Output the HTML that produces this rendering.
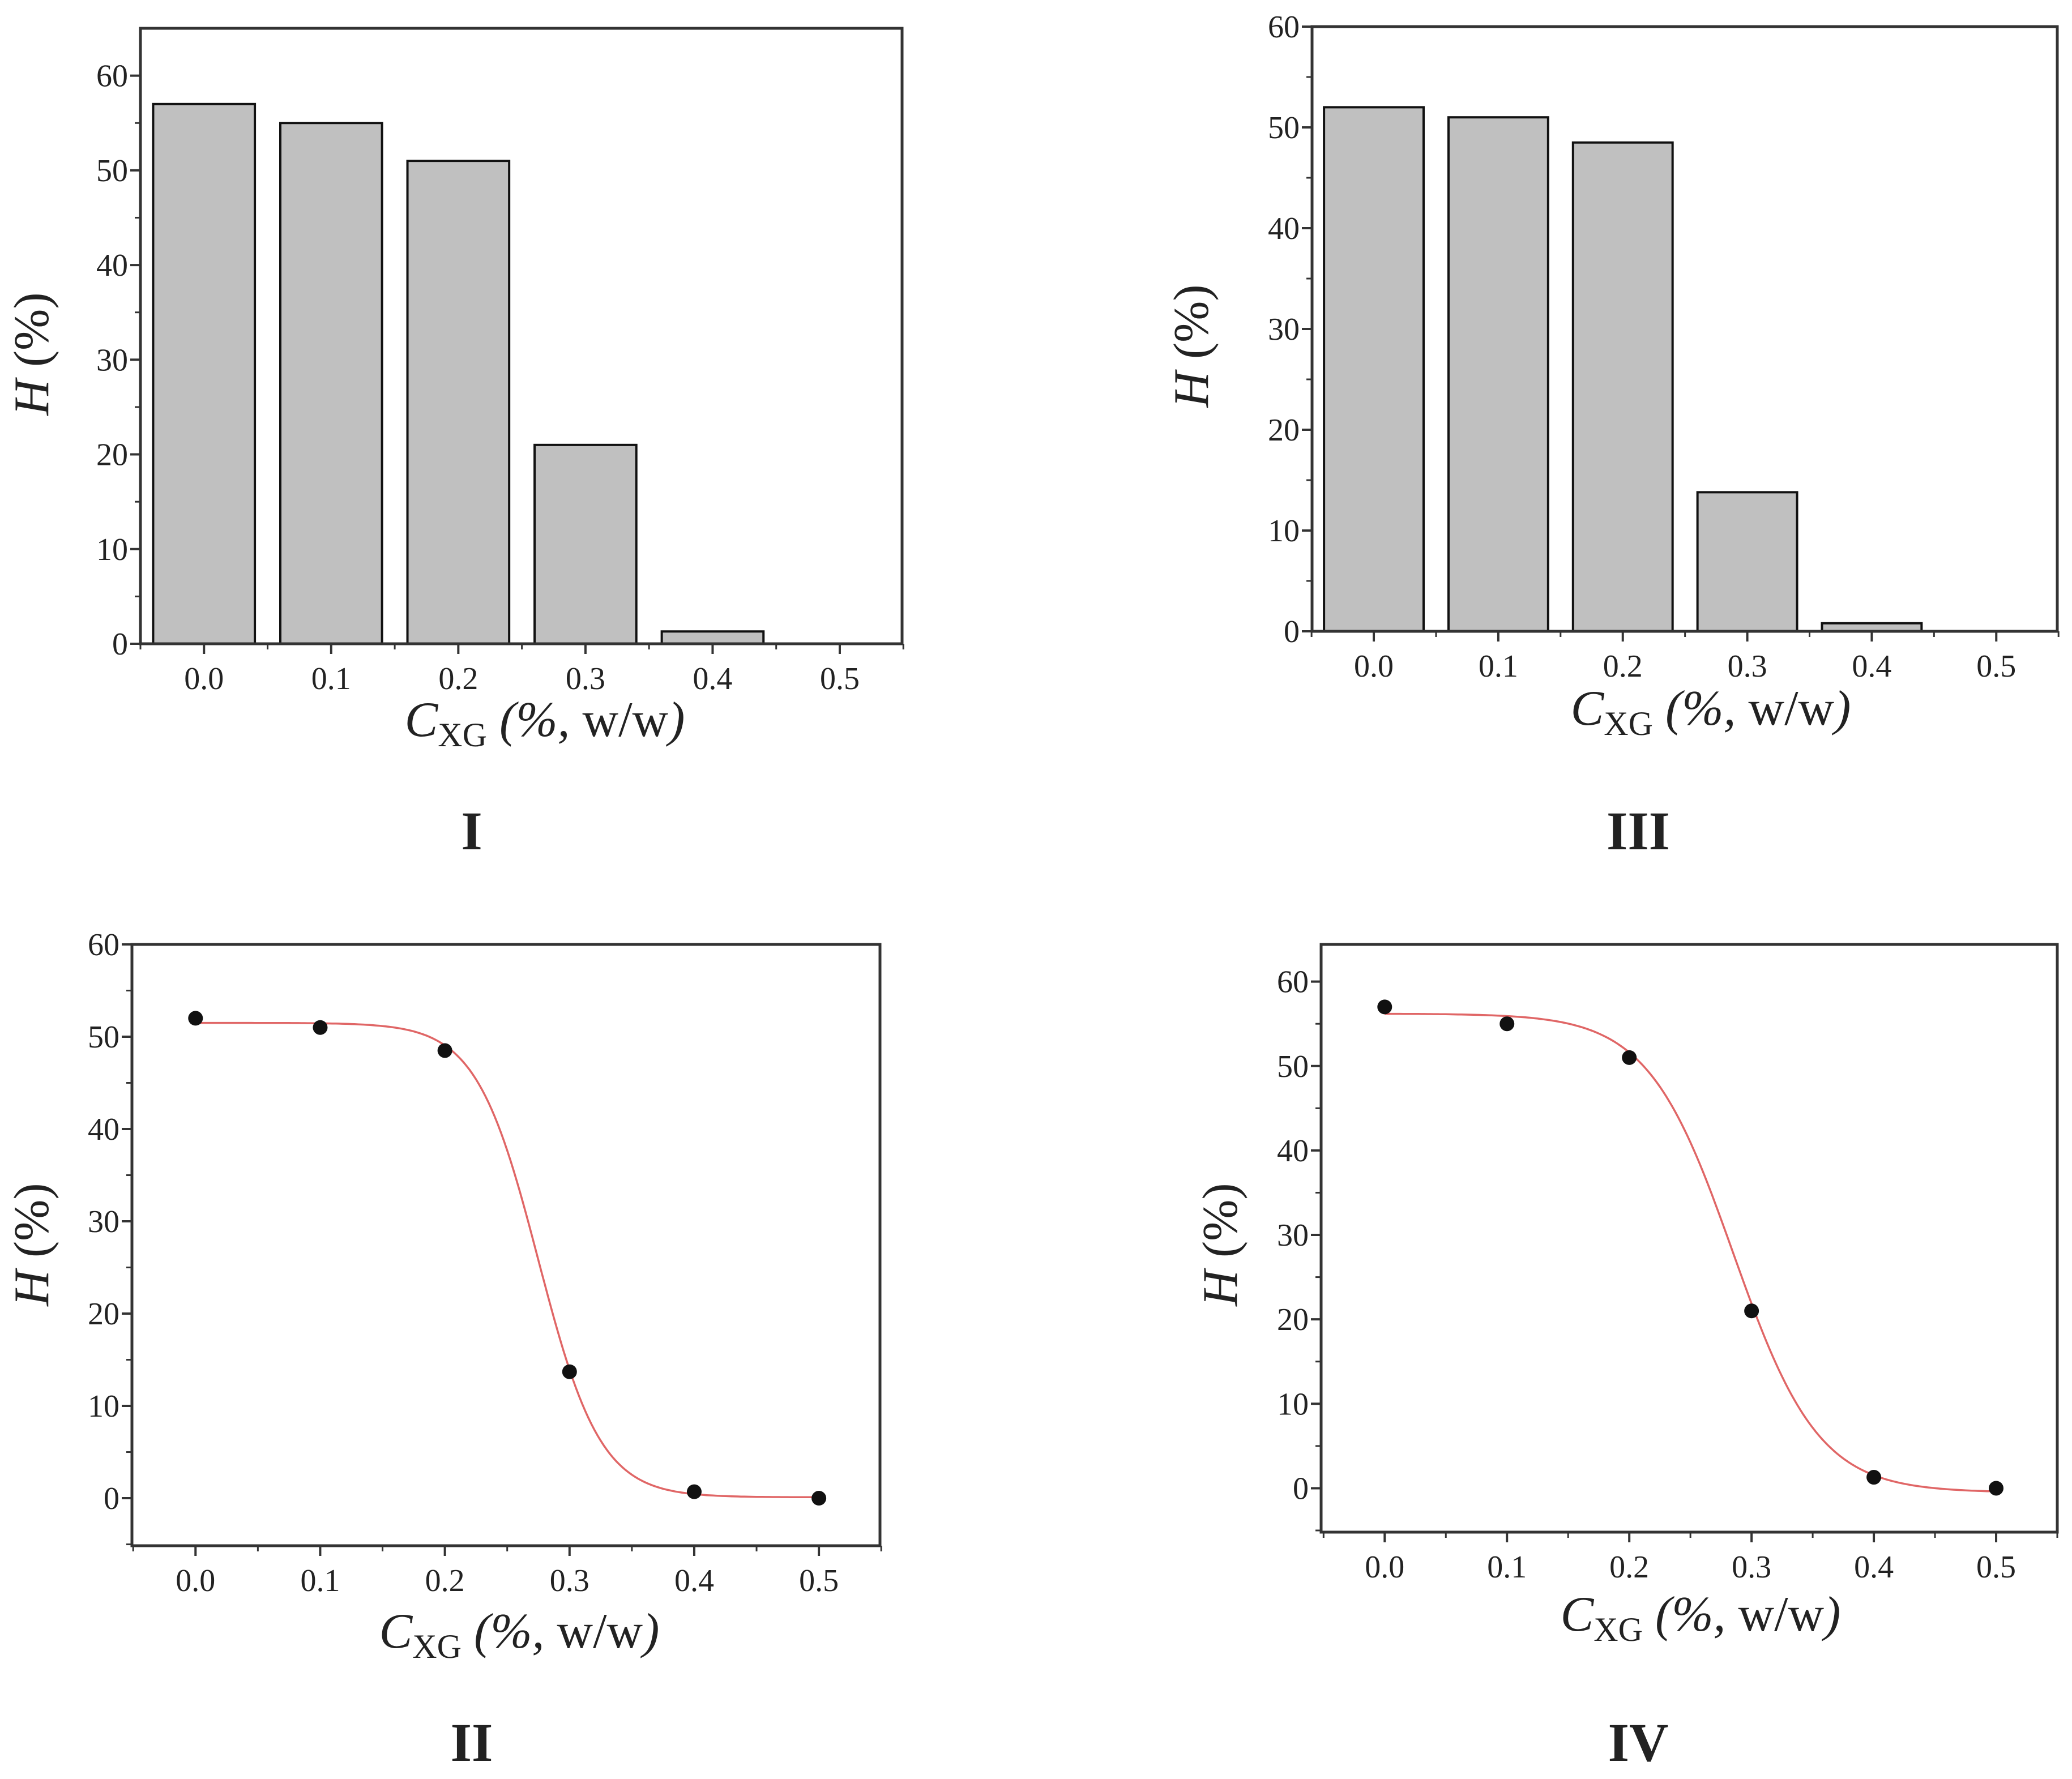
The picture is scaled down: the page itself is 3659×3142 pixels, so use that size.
<!DOCTYPE html>
<html><head><meta charset="utf-8"><style>
html,body{margin:0;padding:0;background:#fff;}
svg{display:block;font-family:"Liberation Serif",serif;}
</style></head><body>
<svg id="fig" width="3659" height="3142" viewBox="0 0 3659 3142" xmlns="http://www.w3.org/2000/svg"></svg>
<script>
const categories = [0.0, 0.1, 0.2, 0.3, 0.4, 0.5];
const xTickLabels = ["0.0","0.1","0.2","0.3","0.4","0.5"];
const barsI = [57, 55, 51, 21, 1.3, 0];
const barsIII = [52, 51, 48.5, 13.8, 0.8, 0];
const pointsII = [52, 51, 48.5, 13.7, 0.7, 0];
const pointsIV = [57, 55, 51, 21, 1.3, 0];
const fitII = [51.5, 0.1, 0.275, 0.025];
const fitIV = [56.2, -0.5, 0.285, 0.035];
const yTicksI = [0,10,20,30,40,50,60];
const yTicksII = [0,10,20,30,40,50,60];

const NS = "http://www.w3.org/2000/svg";
const svg = document.getElementById('fig');
function mk(tag, attrs, parent){const e=document.createElementNS(NS,tag);for(const k in attrs)e.setAttribute(k,attrs[k]);(parent||svg).appendChild(e);return e;}

function panel(cfg){
  const g = mk('g',{});
  
  
  const X = v => cfg.left + (v - cfg.xmin)/(cfg.xmax-cfg.xmin)*(cfg.right-cfg.left);
  const Y = v => cfg.bottom - (v - cfg.ymin)/(cfg.ymax-cfg.ymin)*(cfg.bottom-cfg.top);
  if(cfg.bars){
    cfg.bars.forEach((v,i)=>{
      if(v<=0) return;
      const r = mk('rect',{x:X(categories[i]-0.04),y:Y(v),width:X(categories[i]+0.04)-X(categories[i]-0.04),height:Y(0)-Y(v),fill:'#c0c0c0',stroke:'#111','stroke-width':4},g);
      
      
    });
  }
  if(cfg.fit){
    const [A1,A2,x0,dx]=cfg.fit; let d='';
    for(let k=0;k<=200;k++){const x=k/200*0.5;const y=A2+(A1-A2)/(1+Math.exp((x-x0)/dx));d+=(k?'L':'M')+X(x).toFixed(1)+','+Y(y).toFixed(1);}
    const p = mk('path',{d:d,fill:'none',stroke:'#e06666','stroke-width':3.5},g);
    
    
  }
  if(cfg.points){
    cfg.points.forEach((v,i)=>{
      const c = mk('circle',{cx:X(categories[i]),cy:Y(v),r:13,fill:'#111'},g);
      
      
    });
  }
  const f = mk('rect',{x:cfg.left,y:cfg.top,width:cfg.right-cfg.left,height:cfg.bottom-cfg.top,fill:'none',stroke:'#333','stroke-width':5},g);
  
  
  cfg.yTicks.forEach(t=>{
    mk('line',{x1:cfg.left-18,x2:cfg.left,y1:Y(t),y2:Y(t),stroke:'#333','stroke-width':4},g);
    const tx = mk('text',{x:cfg.left-22,y:Y(t)+19,'text-anchor':'end','font-size':56,fill:'#222'},g);
    tx.textContent = t;
    
    
    const m=t+5; if(m<cfg.ymax) mk('line',{x1:cfg.left-10,x2:cfg.left,y1:Y(m),y2:Y(m),stroke:'#333','stroke-width':3},g);
  });
  if(cfg.ymin<0) mk('line',{x1:cfg.left-10,x2:cfg.left,y1:Y(-5),y2:Y(-5),stroke:'#333','stroke-width':3},g);
  categories.forEach((c,i)=>{
    mk('line',{x1:X(c),x2:X(c),y1:cfg.bottom,y2:cfg.bottom+18,stroke:'#333','stroke-width':4},g);
    mk('line',{x1:X(c+0.05),x2:X(c+0.05),y1:cfg.bottom,y2:cfg.bottom+10,stroke:'#333','stroke-width':3},g);
    const tx = mk('text',{x:X(c),y:cfg.bottom+80,'text-anchor':'middle','font-size':56,fill:'#222'},g);
    tx.textContent = xTickLabels[i];
    
    
  });
  mk('line',{x1:X(-0.05),x2:X(-0.05),y1:cfg.bottom,y2:cfg.bottom+10,stroke:'#333','stroke-width':3},g);
  const yt = mk('text',{x:0,y:0,transform:`translate(${cfg.yt[0]},${cfg.yt[1]}) rotate(-90)`,'text-anchor':'middle','font-size':88,fill:'#222'},g);
  yt.innerHTML = '<tspan font-style="italic">H</tspan> (%)';
  
  
  const xt = mk('text',{x:cfg.xt[0],y:cfg.xt[1],'text-anchor':'middle','font-size':88,fill:'#222'},g);
  xt.innerHTML = '<tspan font-style="italic">C</tspan><tspan font-size="60" dy="18">XG</tspan><tspan dy="-18" font-style="italic"> (%, </tspan><tspan>w/w</tspan><tspan font-style="italic">)</tspan>';
  
  
  const lb = mk('text',{x:cfg.lab[0],y:cfg.lab[1],'text-anchor':'middle','font-size':96,'font-weight':'bold',fill:'#222'},g);
  lb.textContent = cfg.label;
  
  
}

panel({name:'panel-I',left:248,right:1593,top:50,bottom:1137,xmin:-0.05,xmax:0.549,ymin:0,ymax:65,bars:barsI,yTicks:yTicksI,yt:[85,625],xt:[962,1300],lab:[833,1500],label:'I'});
panel({name:'panel-III',left:2317,right:3633,top:47,bottom:1115,xmin:-0.0496,xmax:0.549,ymin:0,ymax:60,bars:barsIII,yTicks:yTicksII,yt:[2133,611],xt:[3021,1280],lab:[2893,1500],label:'III'});
panel({name:'panel-II',left:233,right:1554,top:1668,bottom:2730,xmin:-0.051,xmax:0.549,ymin:-5.15,ymax:60,points:pointsII,fit:fitII,yTicks:yTicksII,yt:[85,2198],xt:[917,2910],lab:[833,3110],label:'II'});
panel({name:'panel-IV',left:2333,right:3633,top:1668,bottom:2706,xmin:-0.052,xmax:0.55,ymin:-5.2,ymax:64.4,points:pointsIV,fit:fitIV,yTicks:yTicksII,yt:[2184,2198],xt:[3003,2880],lab:[2893,3110],label:'IV'});
</script>
</body></html>
